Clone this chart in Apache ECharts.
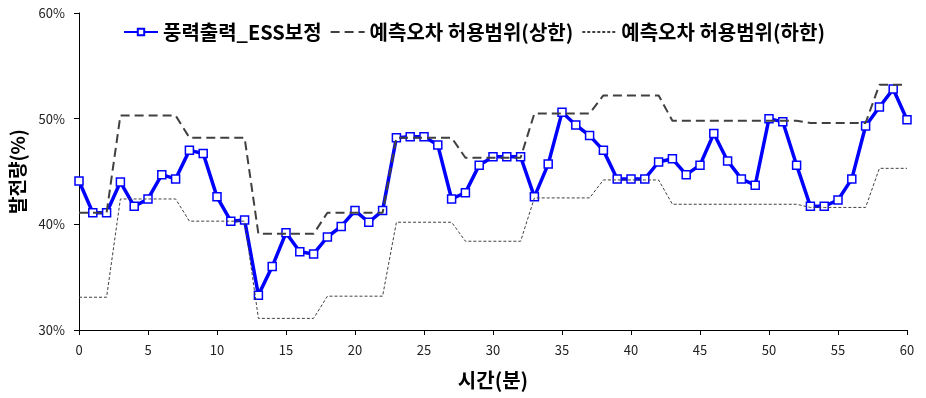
<!DOCTYPE html>
<html>
<head>
<meta charset="utf-8">
<script src="https://cdn.jsdelivr.net/npm/echarts@6/dist/echarts.min.js"></script>
<style>
  html, body { margin: 0; padding: 0; background: #fff; }
  #chart { width: 926px; height: 398px; }
</style>
</head>
<body>
<div id="chart"></div>
<script>
// 시간(분)
var minutes = [0, 1, 2, 3, 4, 5, 6, 7, 8, 9, 10, 11, 12, 13, 14, 15, 16, 17, 18, 19, 20,
  21, 22, 23, 24, 25, 26, 27, 28, 29, 30, 31, 32, 33, 34, 35, 36, 37, 38, 39, 40,
  41, 42, 43, 44, 45, 46, 47, 48, 49, 50, 51, 52, 53, 54, 55, 56, 57, 58, 59, 60];
// 풍력출력_ESS보정
var essOutput = [44.1, 41.1, 41.1, 44.0, 41.7, 42.4, 44.7, 44.3, 47.0, 46.7, 42.6,
  40.3, 40.4, 33.3, 36.0, 39.2, 37.4, 37.2, 38.8, 39.8, 41.3,
  40.2, 41.3, 48.2, 48.3, 48.3, 47.5, 42.4, 43.0, 45.6, 46.4,
  46.4, 46.4, 42.6, 45.7, 50.6, 49.4, 48.4, 47.0, 44.3, 44.3,
  44.3, 45.9, 46.2, 44.7, 45.6, 48.6, 46.0, 44.3, 43.7, 50.0,
  49.7, 45.6, 41.7, 41.7, 42.3, 44.3, 49.3, 51.1, 52.8, 49.9];
// 예측오차 허용범위(상한)
var upperBound = [41.1, 41.1, 41.1, 50.3, 50.3, 50.3, 50.3, 50.3, 48.2, 48.2, 48.2,
  48.2, 48.2, 39.1, 39.1, 39.1, 39.1, 39.1, 41.1, 41.1, 41.1,
  41.1, 41.1, 48.2, 48.2, 48.2, 48.2, 48.2, 46.3, 46.3, 46.3,
  46.3, 46.3, 50.5, 50.5, 50.5, 50.5, 50.5, 52.2, 52.2, 52.2,
  52.2, 52.2, 49.8, 49.8, 49.8, 49.8, 49.8, 49.8, 49.8, 49.8,
  49.8, 49.8, 49.6, 49.6, 49.6, 49.6, 49.6, 53.2, 53.2, 53.2];
// 예측오차 허용범위(하한)
var lowerBound = [33.1, 33.1, 33.1, 42.4, 42.4, 42.4, 42.4, 42.4, 40.3, 40.3, 40.3,
  40.3, 40.3, 31.1, 31.1, 31.1, 31.1, 31.1, 33.2, 33.2, 33.2,
  33.2, 33.2, 40.2, 40.2, 40.2, 40.2, 40.2, 38.4, 38.4, 38.4,
  38.4, 38.4, 42.5, 42.5, 42.5, 42.5, 42.5, 44.2, 44.2, 44.2,
  44.2, 44.2, 41.9, 41.9, 41.9, 41.9, 41.9, 41.9, 41.9, 41.9,
  41.9, 41.9, 41.6, 41.6, 41.6, 41.6, 41.6, 45.3, 45.3, 45.3];
var seriesNames = ['풍력출력_ESS보정', '예측오차 허용범위(상한)', '예측오차 허용범위(하한)'];

var FONT = '"Noto Sans CJK KR", "Noto Sans", sans-serif';

function pairs(values) {
  return minutes.map(function (m, i) { return [m, values[i]]; });
}

var chart = echarts.init(document.getElementById('chart'), null, { renderer: 'canvas' });
var option = {
  animation: false,
  backgroundColor: '#fff',
  textStyle: { fontFamily: FONT },
  grid: { left: 76, right: 19, top: 13, bottom: 68, containLabel: false },
  legend: {
    top: 17,
    left: 118,
    itemWidth: 34,
    itemHeight: 8,
    itemGap: 8,
    textStyle: { fontFamily: FONT, fontSize: 20, fontWeight: 'bold', color: '#000' },
    data: [
      { name: seriesNames[0] },
      { name: seriesNames[1], itemStyle: { opacity: 0 } },
      { name: seriesNames[2], itemStyle: { opacity: 0 } }
    ]
  },
  xAxis: {
    type: 'value',
    min: 0,
    max: 60,
    interval: 5,
    name: '시간(분)',
    nameLocation: 'middle',
    nameGap: 40,
    nameTextStyle: { fontFamily: FONT, fontSize: 20, fontWeight: 'bold', color: '#000' },
    axisLine: { lineStyle: { color: '#000', width: 1 } },
    axisTick: { show: true, length: 5, lineStyle: { color: '#000' } },
    axisLabel: { fontFamily: FONT, fontSize: 13, color: '#222', margin: 14 },
    splitLine: { show: false }
  },
  yAxis: {
    type: 'value',
    min: 30,
    max: 60,
    interval: 10,
    name: '발전량(%)',
    nameLocation: 'middle',
    nameGap: 52,
    nameRotate: 90,
    nameTextStyle: { fontFamily: FONT, fontSize: 19, fontWeight: 'bold', color: '#000' },
    axisLine: { show: true, lineStyle: { color: '#000', width: 1 } },
    axisTick: { show: true, length: 5, lineStyle: { color: '#000' } },
    axisLabel: { fontFamily: FONT, fontSize: 13, color: '#222', margin: 14, formatter: '{value}%' },
    splitLine: { show: false }
  },
  series: [{
    name: seriesNames[0],
    type: 'line',
    data: pairs(essOutput),
    symbol: 'rect',
    symbolSize: 8,
    showAllSymbol: true,
    lineStyle: { color: '#0000ff', width: 3.5 },
    itemStyle: { color: '#fff', borderColor: '#0000ff', borderWidth: 1.5 },
    z: 3
  }, {
    name: seriesNames[1],
    type: 'line',
    data: pairs(upperBound),
    symbol: 'none',
    lineStyle: { color: '#404040', width: 2, type: [9, 5] },
    itemStyle: { color: '#404040' },
    z: 4
  }, {
    name: seriesNames[2],
    type: 'line',
    data: pairs(lowerBound),
    symbol: 'none',
    lineStyle: { color: '#404040', width: 1, type: [3, 2] },
    itemStyle: { color: '#404040' },
    z: 4
  }]
};
chart.setOption(option);
</script>
</body>
</html>
